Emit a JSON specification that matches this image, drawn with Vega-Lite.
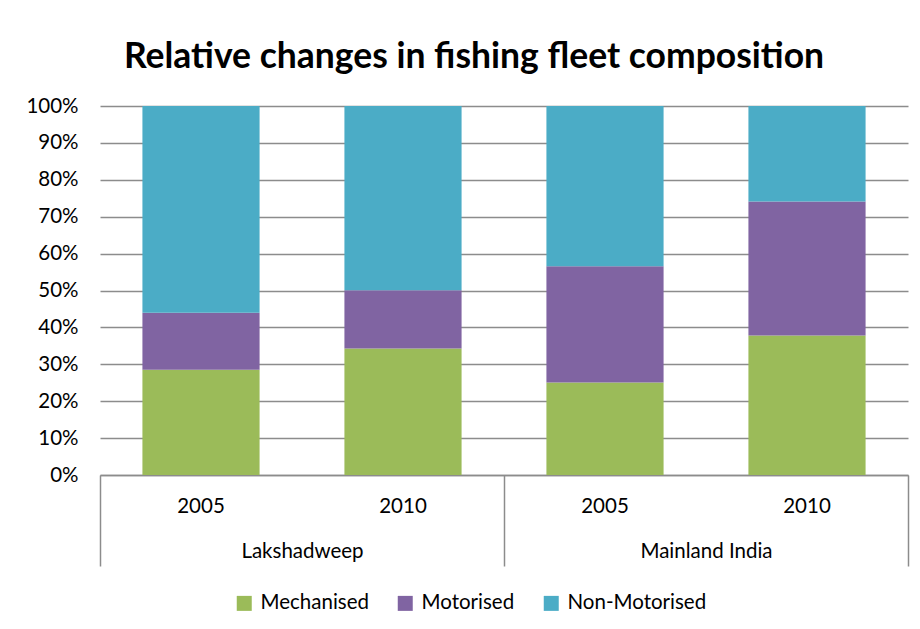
{
  "$schema": "https://vega.github.io/schema/vega-lite/v6.json",
  "autosize": {"type": "none"},
  "width": 808,
  "height": 369,
  "padding": {"left": 100, "top": 106, "right": 12, "bottom": 154},
  "background": "white",
  "config": {
    "font": "Lato",
    "view": {"stroke": null}
  },
  "title": {
    "text": "Relative changes in fishing fleet composition",
    "font": "Lato",
    "fontSize": 35.5,
    "fontWeight": "bold",
    "color": "#000000",
    "anchor": "middle",
    "dx": -30,
    "offset": 21
  },
  "data": {
    "values": [
      {"key": "Lakshadweep 2005", "region": "Lakshadweep", "year": "2005", "type": "Mechanised", "value": 28.5},
      {"key": "Lakshadweep 2005", "region": "Lakshadweep", "year": "2005", "type": "Motorised", "value": 15.5},
      {"key": "Lakshadweep 2005", "region": "Lakshadweep", "year": "2005", "type": "Non-Motorised", "value": 56.0},
      {"key": "Lakshadweep 2010", "region": "Lakshadweep", "year": "2010", "type": "Mechanised", "value": 34.3},
      {"key": "Lakshadweep 2010", "region": "Lakshadweep", "year": "2010", "type": "Motorised", "value": 15.8},
      {"key": "Lakshadweep 2010", "region": "Lakshadweep", "year": "2010", "type": "Non-Motorised", "value": 49.9},
      {"key": "Mainland India 2005", "region": "Mainland India", "year": "2005", "type": "Mechanised", "value": 25.1},
      {"key": "Mainland India 2005", "region": "Mainland India", "year": "2005", "type": "Motorised", "value": 31.5},
      {"key": "Mainland India 2005", "region": "Mainland India", "year": "2005", "type": "Non-Motorised", "value": 43.4},
      {"key": "Mainland India 2010", "region": "Mainland India", "year": "2010", "type": "Mechanised", "value": 37.8},
      {"key": "Mainland India 2010", "region": "Mainland India", "year": "2010", "type": "Motorised", "value": 36.3},
      {"key": "Mainland India 2010", "region": "Mainland India", "year": "2010", "type": "Non-Motorised", "value": 25.9}
    ]
  },
  "layer": [
    {
      "mark": {"type": "bar"},
      "encoding": {
        "x": {
          "field": "key",
          "type": "nominal",
          "sort": null,
          "scale": {"paddingInner": 0.42, "paddingOuter": 0.21},
          "axis": {
            "orient": "bottom",
            "title": null,
            "labelExpr": "slice(datum.label, -4)",
            "labelAngle": 0,
            "ticks": false,
            "domain": false,
            "labelPadding": 21,
            "labelFontSize": 20.5,
            "labelColor": "#000000",
            "labelFont": "Lato"
          }
        },
        "y": {
          "field": "value",
          "type": "quantitative",
          "stack": "normalize",
          "scale": {"domain": [0, 1]},
          "axis": {
            "title": null,
            "format": ".0%",
            "values": [0, 0.1, 0.2, 0.3, 0.4, 0.5, 0.6, 0.7, 0.8, 0.9, 1],
            "labelOverlap": false,
            "labelBound": false,
            "domain": false,
            "ticks": false,
            "labelPadding": 22,
            "labelFontSize": 20.5,
            "labelColor": "#000000",
            "labelFont": "Lato",
            "grid": true,
            "gridColor": "#8c8c8c",
            "gridWidth": 1.5
          }
        },
        "color": {
          "field": "type",
          "type": "nominal",
          "scale": {
            "domain": ["Mechanised", "Motorised", "Non-Motorised"],
            "range": ["#9BBB59", "#8064A2", "#4BACC6"]
          },
          "legend": {
            "title": null,
            "orient": "none",
            "direction": "horizontal",
            "legendX": 134,
            "legendY": 487,
            "symbolType": "square",
            "symbolSize": 225,
            "symbolStrokeWidth": 0,
            "symbolOpacity": 1,
            "labelFontSize": 20.5,
            "labelFont": "Lato",
            "labelColor": "#000000",
            "labelOffset": 6,
            "columnPadding": 26
          }
        },
        "order": {"field": "type", "sort": "ascending"}
      }
    },
    {
      "mark": {"type": "tick", "opacity": 0},
      "encoding": {
        "x": {
          "field": "region",
          "type": "nominal",
          "scale": {"paddingInner": 0, "paddingOuter": 0},
          "axis": {
            "orient": "bottom",
            "title": null,
            "labelAngle": 0,
            "tickBand": "extent",
            "tickSize": 91,
            "tickColor": "#8c8c8c",
            "tickWidth": 1.5,
            "domainColor": "#8c8c8c",
            "domainWidth": 1.5,
            "labelPadding": -25,
            "labelFontSize": 20.5,
            "labelColor": "#000000",
            "labelFont": "Lato"
          }
        }
      }
    }
  ],
  "resolve": {"scale": {"x": "independent"}, "axis": {"x": "independent"}}
}
